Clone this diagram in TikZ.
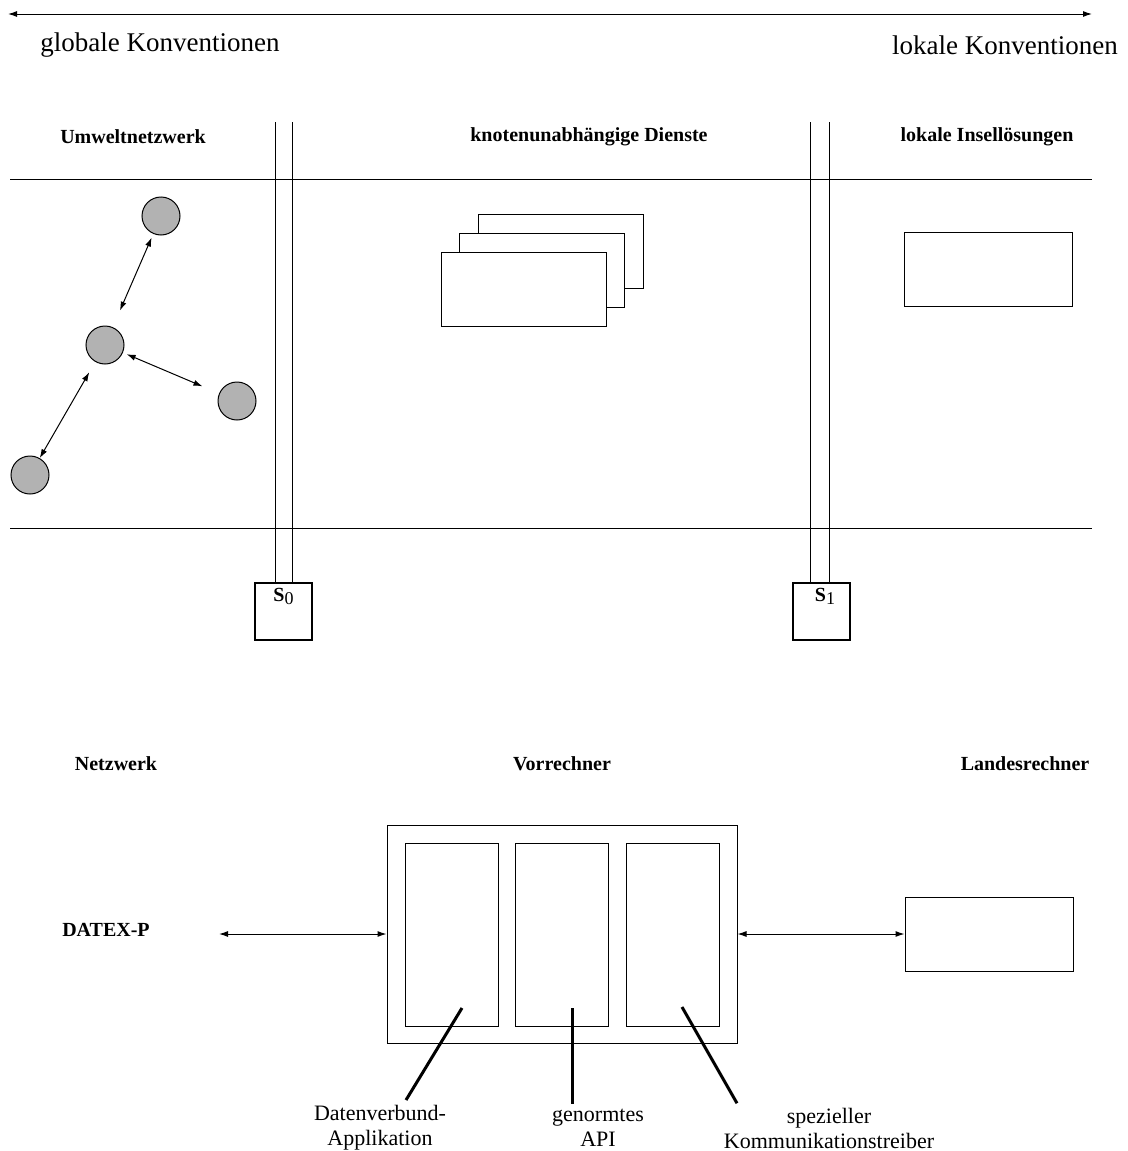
\documentclass[tikz,border=0pt]{standalone}
\usepackage{fontspec}
\setmainfont{Liberation Serif}
\usetikzlibrary{arrows.meta}
\tikzset{
  box/.style={draw, fill=white, inner sep=0pt},
  sbox/.style={draw, line width=1pt, minimum size=28.5pt, inner sep=0pt},
  dot/.style={circle, draw, fill=gray!60, minimum size=19pt, inner sep=0pt},
  head/.style={font=\bfseries\fontsize{10}{12}\selectfont},
  big/.style={font=\fontsize{13.5}{16}\selectfont},
  note/.style={font=\fontsize{11}{12.5}\selectfont, align=center, inner sep=0pt},
  pointer/.style={line width=1.5pt},
  both/.style={{Latex[length=4.5pt,width=3pt]}-{Latex[length=4.5pt,width=3pt]}},
}
\newcommand{\sname}[1]{{\bfseries S}\raisebox{-.3ex}{\small #1}}
\begin{document}
\begin{tikzpicture}[x=0.5pt,y=-0.5pt,line width=0.5pt]
  \useasboundingbox (0,0) rectangle (1128,1151);
  % conventions
  \coordinate (glob) at (8,14);
  \coordinate (lok) at (1092,14);
  \draw[both] (glob) -- (lok);
  \node[big] (tglob) at (160,45) {globale Konventionen};
  \node[big] (tlok) at (1005,45) {lokale Konventionen};

  % upper part
  \node[head] (hum) at (133,137) {Umweltnetzwerk};
  \node[head] (hdi) at (589,137) {knotenunabhängige Dienste};
  \node[head] (hin) at (987,137) {lokale Insellösungen};
  \draw (10,179) -- (1092,179) (10,528) -- (1092,528);

  \node[sbox, label={[anchor=north, inner sep=3pt]north:\sname{0}}] (s0) at (283.5,611.5) {};
  \node[sbox, label={[anchor=north, inner sep=3pt, xshift=2pt]north:\sname{1}}] (s1) at (821,611.5) {};
  \foreach \x in {275,292,810,829}
    \draw (\x,122) -- (\x,583);

  \node[dot] (c1) at (161,216) {};
  \node[dot] (c2) at (105,345) {};
  \node[dot] (c3) at (237,401) {};
  \node[dot] (c4) at (30,475) {};
  \draw[both, shorten <=2pt, shorten >=9pt] (c1) -- (c2);
  \draw[both, shorten <=2pt, shorten >=9pt] (c2) -- (c3);
  \draw[both, shorten <=6pt] (c2) -- (c4);

  \node[box, minimum width=82.5pt, minimum height=37pt] (d3) at (560.5,251) {};
  \node[box, minimum width=82.5pt, minimum height=37pt] (d2) at (541.5,270) {};
  \node[box, minimum width=82.5pt, minimum height=37pt] (d1) at (523.5,289) {};
  \node[box, minimum width=84pt, minimum height=37pt] (ins) at (988,269) {};

  % lower part
  \node[head] (hnw) at (116,764) {Netzwerk};
  \node[head] (hvr) at (562,764) {Vorrechner};
  \node[head] (hlr) at (1025,764) {Landesrechner};
  \node[head] (dtx) at (106,930) {DATEX-P};

  \node[box, minimum width=175pt, minimum height=109pt] (vr) at (562,934) {};
  \foreach \n/\x in {1/451.5,2/562,3/673}
    \node[box, minimum width=46.5pt, minimum height=91.5pt] (m\n) at (\x,934.5) {};
  \node[box, minimum width=84pt, minimum height=37pt] (lr) at (989,934) {};
  \coordinate (dx) at (219,934);
  \draw[both] (dx) -- (vr.west);
  \draw[both] (vr.east) -- (lr.west);

  \node[note] (lab1) at (380,1128) {Datenverbund-\\Applikation};
  \node[note] (lab2) at (598,1128) {genormtes\\API};
  \node[note] (lab3) at (829,1128) {spezieller\\Kommunikationstreiber};
  \coordinate (p1) at (462,1008);
  \coordinate (p2) at (572,1008);
  \coordinate (p3) at (682,1007);
  \draw[pointer] (p1) -- ([xshift=13pt,yshift=2.5pt]lab1.north);
  \draw[pointer] (p2) -- ([xshift=-13pt,yshift=2.5pt]lab2.north);
  \draw[pointer] (p3) -- ([xshift=-46pt,yshift=2pt]lab3.north);
\end{tikzpicture}
\end{document}
